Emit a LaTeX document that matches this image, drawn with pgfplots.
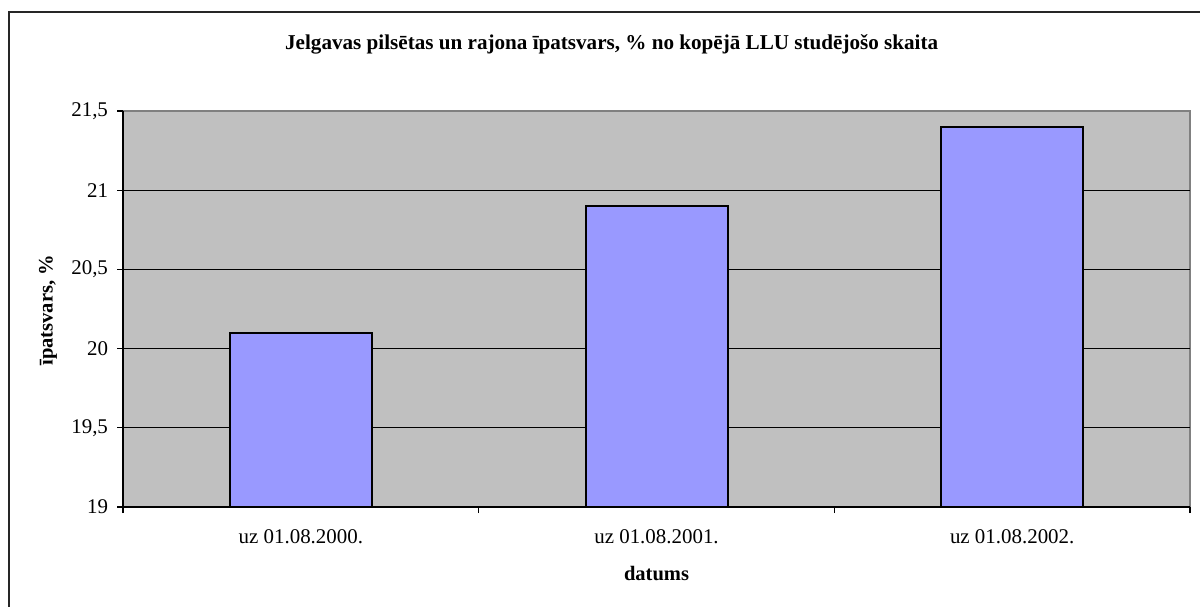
\documentclass[border=0pt]{standalone}
\usepackage{pgfplots}
\pgfplotsset{compat=1.18}
\usepackage{fontspec}
\setmainfont{Liberation Serif}
\definecolor{plotgray}{HTML}{C0C0C0}
\definecolor{bordergray}{HTML}{808080}
\definecolor{barblue}{HTML}{9999FF}
\begin{document}
\begin{tikzpicture}[x=1bp,y=1bp]
\useasboundingbox (0,0) rectangle (600,303);
\fill[white] (0,0) rectangle (600,303);
\draw[black!85, line width=0.9bp] (4.5,-1) -- (4.5,297) -- (601,297);
\begin{axis}[
  at={(61.5bp,49.5bp)}, anchor=south west,
  scale only axis, width=533.5bp, height=198bp,
  xmin=-0.5, xmax=2.5, ymin=19, ymax=21.5,
  axis x line*=bottom, axis y line*=left,
  axis line style={black, line width=0.6bp},
  axis background/.style={fill=plotgray, draw=bordergray, line width=0.9bp},
  xtick={0,1,2},
  xticklabels={uz 01.08.2000., uz 01.08.2001., uz 01.08.2002.},
  major x tick style={draw=none},
  minor xtick={-0.5,0.5,1.5,2.5},
  minor x tick style={black, line width=0.6bp},
  minor tick length=3bp,
  ytick={19,19.5,20,20.5,21},
  extra y ticks={21.5},
  extra y tick style={grid=none},
  y tick style={black, line width=0.6bp},
  major tick length=3bp,
  tick align=outside,
  ymajorgrids, grid style={black, line width=0.5bp},
  /pgf/number format/use comma,
  /pgf/number format/assume math mode=true,
  ticklabel style={font=\fontsize{10.5}{12}\selectfont},
  xticklabel style={yshift=-5bp},
  yticklabel style={xshift=-1bp},
  title={\textbf{Jelgavas pilsētas un rajona īpatsvars, \% no kopējā LLU studējošo skaita}},
  title style={font=\fontsize{10.6}{12}\selectfont, at={(axis description cs:0.458,1.169)}, anchor=center, yshift=-6pt},
  xlabel={\textbf{datums}},
  xlabel style={font=\fontsize{10.3}{12}\selectfont, at={(axis description cs:0.5,-0.169)}, anchor=center},
  ylabel={\textbf{īpatsvars, \%}},
  ylabel style={font=\fontsize{10.3}{12}\selectfont, at={(axis description cs:-0.0704,0.497)}, anchor=center},
  ybar, bar width=71bp,
  clip=false,
]
\addplot[fill=barblue, draw=black, line width=1bp, bar shift=0pt] coordinates {(0,20.1) (1,20.9) (2,21.4)};
\end{axis}
\end{tikzpicture}
\end{document}
